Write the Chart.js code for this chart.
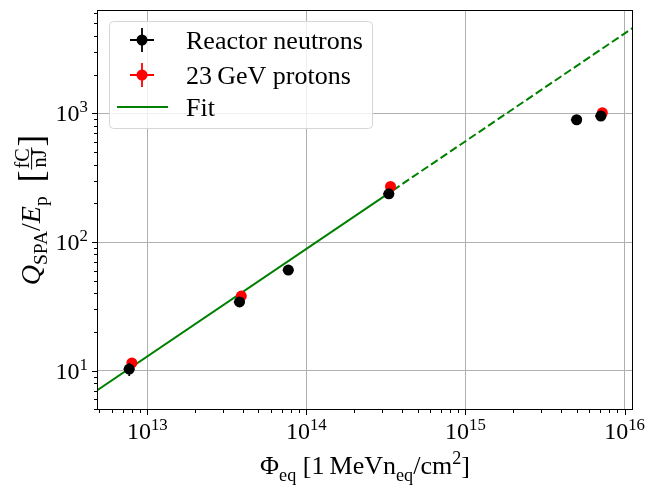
<!DOCTYPE html>
<html lang="en">
<head>
<meta charset="UTF-8">
<title>Q_SPA/E_p versus fluence</title>
<script src="https://cdn.jsdelivr.net/npm/chart.js"></script>
<style>
  html, body { margin: 0; padding: 0; background: #fff; }
  #wrap { width: 653px; height: 494px; }
</style>
</head>
<body>
<div id="wrap"><canvas id="chart"></canvas></div>
<script>
// reactor neutrons
const neutronFluence = [7.7e12, 3.8e13, 7.7e13, 3.3e14, 5.0e15, 7.1e15];
const neutronSignal = [10.3, 34.2, 60.5, 237, 891, 953];
const neutronFluenceErr = [0.6e12, 3e12, 6e12, 2.6e13, 4e14, 5.5e14];
const neutronSignalErr = [1.2, 2.5, 4, 15, 50, 60];

// 23 GeV protons
const protonFluence = [8.0e12, 3.9e13, 3.38e14, 7.25e15];
const protonSignal = [11.5, 38, 270, 1010];
const protonFluenceErr = [0.5e12, 2.5e12, 2e13, 4.5e14];
const protonSignalErr = [1.0, 3, 20, 70];

// fit: solid up to the last fitted point, dashed beyond
const fitFluence = [4.8e12, 3.5e14, 1.13e16];
const fitSignal = [7.0, 252, 4620];

const xRange = [4.83e12, 1.13e16];
const yRange = [4.95, 6350];

const SERIF = '"Liberation Serif", "DejaVu Serif", serif';
const toPoints = (xs, ys) => xs.map((x, i) => ({ x: x, y: ys[i] }));

function logTicks(min, max) {
    const out = [];
    for (let e = Math.floor(Math.log10(min)); e <= Math.ceil(Math.log10(max)); e++) {
        for (let m = 1; m < 10; m++) {
            const v = m * Math.pow(10, e);
            if (v >= min && v <= max) out.push({ value: v, major: m === 1, exp: e });
        }
    }
    return out;
}

function partFont(p, size) {
    let s = size;
    if (p.sub || p.sup) s = size * 0.7;
    if (p.frac) s = size * 0.72;
    if (p.big) s = size * 1.25;
    return (p.it ? 'italic ' : '') + s.toFixed(1) + 'px ' + SERIF;
}
function partWidth(ctx, p, size) {
    ctx.font = partFont(p, size);
    if (p.frac) return Math.max(ctx.measureText(p.frac[0]).width, ctx.measureText(p.frac[1]).width) + 4;
    return ctx.measureText(p.t).width;
}
function drawRich(ctx, parts, x0, y, size, align, supRaise) {
    const widths = parts.map(p => partWidth(ctx, p, size));
    const total = widths.reduce((a, b) => a + b, 0);
    let x = align === 'right' ? x0 - total : x0 - total / 2;
    ctx.textBaseline = 'alphabetic';
    parts.forEach((p, i) => {
        ctx.font = partFont(p, size);
        if (p.frac) {
            const w = widths[i], mid = x + w / 2, bar = y - size * 0.3;
            ctx.textAlign = 'center';
            ctx.fillText(p.frac[0], mid, bar - size * 0.08);
            ctx.fillText(p.frac[1], mid, bar + size * 0.52);
            ctx.fillRect(x + 1, bar - 0.5, w - 2, 1);
        } else {
            ctx.textAlign = 'left';
            let dy = p.sub ? size * 0.25 : p.sup ? -(supRaise || size * 0.38) : 0;
            if (p.big) dy = size * 0.12;
            ctx.fillText(p.t, x, y + dy);
        }
        x += widths[i];
    });
}

const errorBars = {
    id: 'errorBars',
    beforeDatasetDraw(chart, args) {
        const ds = chart.data.datasets[args.index];
        if (!ds.xErr) return;
        const c = chart.ctx, xs = chart.scales.x, ys = chart.scales.y;
        c.save();
        c.strokeStyle = ds.borderColor;
        c.lineWidth = 1.8;
        ds.data.forEach((pt, i) => {
            const px = xs.getPixelForValue(pt.x), py = ys.getPixelForValue(pt.y);
            c.beginPath();
            c.moveTo(xs.getPixelForValue(pt.x - ds.xErr[i]), py);
            c.lineTo(xs.getPixelForValue(pt.x + ds.xErr[i]), py);
            c.moveTo(px, ys.getPixelForValue(pt.y - ds.yErr[i]));
            c.lineTo(px, ys.getPixelForValue(pt.y + ds.yErr[i]));
            c.stroke();
        });
        c.restore();
    }
};

const decorations = {
    id: 'decorations',
    afterDraw(chart) {
        const c = chart.ctx, a = chart.chartArea;
        const xs = chart.scales.x, ys = chart.scales.y;
        c.save();
        c.fillStyle = '#000';
        c.strokeStyle = '#000';
        c.lineWidth = 1;
        // ticks
        c.beginPath();
        xs.ticks.forEach(t => {
            const p = Math.round(xs.getPixelForValue(t.value)) + 0.5;
            c.moveTo(p, a.bottom); c.lineTo(p, a.bottom + (t.major ? 5 : 3));
        });
        ys.ticks.forEach(t => {
            const p = Math.round(ys.getPixelForValue(t.value)) + 0.5;
            c.moveTo(a.left, p); c.lineTo(a.left - (t.major ? 5 : 3), p);
        });
        c.stroke();
        c.strokeRect(a.left + 0.5, a.top + 0.5, a.right - a.left - 1, a.bottom - a.top - 1);
        // tick labels
        xs.ticks.filter(t => t.major).forEach(t => {
            drawRich(c, [{ t: '10' }, { t: String(t.exp), sup: true }], xs.getPixelForValue(t.value), a.bottom + 29, 24, 'center', 9);
        });
        ys.ticks.filter(t => t.major).forEach(t => {
            drawRich(c, [{ t: '10' }, { t: String(t.exp), sup: true }], a.left - 9, ys.getPixelForValue(t.value) + 8, 24, 'right', 9);
        });
        // axis titles
        drawRich(c, [
            { t: '\u03a6' }, { t: 'eq', sub: true }, { t: ' [1\u2009MeVn' }, { t: 'eq', sub: true },
            { t: '/cm' }, { t: '2', sup: true }, { t: ']' }
        ], (a.left + a.right) / 2, 474, 26, 'center');
        c.save();
        c.translate(40, (a.top + a.bottom) / 2);
        c.rotate(-Math.PI / 2);
        drawRich(c, [
            { t: 'Q', it: true }, { t: 'SPA', sub: true }, { t: '/' }, { t: 'E', it: true }, { t: 'p', sub: true },
            { t: '\u2002' }, { t: '[', big: true }, { frac: ['fC', 'nJ'] }, { t: ']', big: true }
        ], 0, 0, 28, 'center');
        c.restore();
        // legend
        const lx = 109.5, ly = 21.5, lw = 263, lh = 107;
        c.beginPath();
        c.roundRect(lx, ly, lw, lh, 4);
        c.fillStyle = 'rgba(255,255,255,0.8)';
        c.fill();
        c.strokeStyle = '#d6d6d6';
        c.stroke();
        const rows = [40, 75, 107];
        chart.data.datasets.filter(d => !d.hideInLegend).forEach((d, i) => {
            const cy = rows[i], mx = 142;
            c.strokeStyle = d.borderColor;
            c.fillStyle = d.borderColor;
            if (d.xErr) {
                c.lineWidth = 1.8;
                c.beginPath();
                c.moveTo(mx - 12, cy); c.lineTo(mx + 12, cy);
                c.moveTo(mx, cy - 12); c.lineTo(mx, cy + 12);
                c.stroke();
                c.beginPath();
                c.arc(mx, cy, 5.5, 0, Math.PI * 2);
                c.fill();
            } else {
                c.lineWidth = 2.2;
                c.beginPath();
                c.moveTo(117, cy); c.lineTo(168, cy);
                c.stroke();
            }
            c.fillStyle = '#000';
            c.font = '26px ' + SERIF;
            c.textAlign = 'left';
            c.textBaseline = 'alphabetic';
            c.fillText(d.label, 186, cy + 9);
        });
        c.restore();
    }
};

const axisBase = {
    type: 'logarithmic',
    afterBuildTicks: scale => { scale.ticks = logTicks(scale.min, scale.max); },
    ticks: { display: false },
    border: { display: false },
    grid: {
        drawTicks: false,
        lineWidth: 1,
        color: ctx => (ctx.tick && ctx.tick.major) ? '#b0b0b0' : 'rgba(0,0,0,0)'
    }
};

new Chart(document.getElementById('chart'), {
    type: 'scatter',
    data: {
        datasets: [
            {
                label: 'Reactor neutrons',
                data: toPoints(neutronFluence, neutronSignal),
                xErr: neutronFluenceErr, yErr: neutronSignalErr,
                backgroundColor: '#000', borderColor: '#000',
                pointRadius: 5.5, pointHoverRadius: 5.5, borderWidth: 0
            },
            {
                label: '23\u2009GeV protons',
                data: toPoints(protonFluence, protonSignal),
                xErr: protonFluenceErr, yErr: protonSignalErr,
                backgroundColor: '#ff0000', borderColor: '#ff0000',
                pointRadius: 5.5, pointHoverRadius: 5.5, borderWidth: 0
            },
            {
                label: 'Fit',
                data: toPoints(fitFluence.slice(0, 2), fitSignal.slice(0, 2)),
                showLine: true, borderColor: '#008000', borderWidth: 2, pointRadius: 0
            },
            {
                label: 'Fit extrapolation',
                hideInLegend: true,
                data: toPoints(fitFluence.slice(1), fitSignal.slice(1)),
                showLine: true, borderColor: '#008000', borderWidth: 2, pointRadius: 0,
                borderDash: [8, 3.5]
            }
        ]
    },
    options: {
        responsive: true,
        maintainAspectRatio: false,
        animation: false,
        layout: { padding: { top: 10, right: 20, left: 0, bottom: 0 } },
        plugins: { legend: { display: false }, tooltip: { enabled: false } },
        scales: {
            x: Object.assign({}, axisBase, {
                min: xRange[0], max: xRange[1],
                afterFit: scale => { scale.height = 84; }
            }),
            y: Object.assign({}, axisBase, {
                min: yRange[0], max: yRange[1],
                afterFit: scale => { scale.width = 97; }
            })
        }
    },
    plugins: [errorBars, decorations]
});
</script>
</body>
</html>
